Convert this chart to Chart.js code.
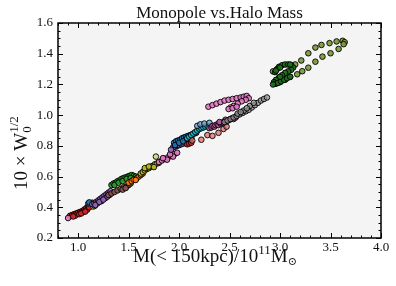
<!DOCTYPE html>
<html>
<head>
<meta charset="utf-8">
<script src="https://cdn.jsdelivr.net/npm/chart.js@4.4.0/dist/chart.umd.min.js"></script>
<style>
  html, body { margin: 0; padding: 0; background: #fff; }
  #wrap { width: 396px; height: 286px; }
</style>
</head>
<body>
<div id="wrap"><canvas id="chart"></canvas></div>
<script>
// tick labels
const xTicks = [1.0, 1.5, 2.0, 2.5, 3.0, 3.5, 4.0];
const yTicks = [0.2, 0.4, 0.6, 0.8, 1.0, 1.2, 1.4, 1.6];

// halo tracks: [M(<150kpc)/1e11, 10*W0^(1/2)]
const redPts = [[0.92,0.345],[0.94,0.35],[0.96,0.355],[0.98,0.36],[1.00,0.365],[1.02,0.37],[1.04,0.375],[1.06,0.385],[1.08,0.395],[1.10,0.405],[1.12,0.42],[1.14,0.43],[0.97,0.345],[1.01,0.355],[1.05,0.37],[1.09,0.385],[0.95,0.34],[1.03,0.36],[1.07,0.372],[1.11,0.40]];
const blueSmallPts = [[1.10,0.425],[1.11,0.432]];
const yellowPts = [[1.15,0.405],[1.165,0.41]];
const purplePts = [[1.14,0.42],[1.16,0.425],[1.18,0.435],[1.20,0.445],[1.22,0.455],[1.24,0.465],[1.26,0.475],[1.28,0.485],[1.30,0.495],[1.32,0.505],[1.19,0.425],[1.23,0.44],[1.27,0.46],[1.31,0.48],[1.17,0.415],[1.21,0.435],[1.25,0.45],[1.29,0.47]];
const brownPts = [[1.30,0.48],[1.33,0.49],[1.36,0.50],[1.39,0.51],[1.42,0.52],[1.45,0.53],[1.48,0.535],[1.50,0.545],[1.52,0.555],[1.44,0.515],[1.47,0.525]];
const greenPts = [[1.33,0.545],[1.35,0.555],[1.37,0.56],[1.39,0.57],[1.41,0.575],[1.43,0.585],[1.45,0.59],[1.47,0.595],[1.49,0.60],[1.51,0.605],[1.53,0.61],[1.55,0.605],[1.57,0.60],[1.36,0.545],[1.40,0.56],[1.44,0.57],[1.48,0.585],[1.52,0.59]];
const orangePts = [[1.50,0.56],[1.53,0.57],[1.55,0.58],[1.58,0.59],[1.60,0.60],[1.62,0.61],[1.64,0.62],[1.57,0.578]];
const olivePts = [[1.62,0.62],[1.64,0.63],[1.66,0.64],[1.68,0.65],[1.70,0.655],[1.72,0.665],[1.74,0.67],[1.76,0.68],[1.78,0.685],[1.80,0.69],[1.66,0.655],[1.70,0.665],[1.75,0.662]];
const paleOlivePts = [[1.77,0.73]];
const pinkPts = [[0.90,0.33],[1.80,0.695],[1.83,0.705],[1.86,0.715],[1.89,0.725],[1.92,0.735],[1.95,0.745],[1.98,0.755],[1.88,0.71],[1.94,0.73],[1.84,0.72],[1.91,0.745]];
const purple2Pts = [[1.94,0.79],[1.96,0.795],[1.98,0.80],[2.00,0.805],[2.02,0.81],[2.04,0.815],[2.06,0.82],[2.08,0.83],[1.92,0.775]];
const bluePts = [[1.95,0.82],[1.97,0.83],[1.99,0.835],[2.01,0.84],[2.03,0.85],[2.05,0.855],[2.07,0.86],[2.09,0.865],[2.11,0.87],[2.13,0.875],[2.15,0.88],[2.17,0.885],[1.96,0.805],[2.00,0.82],[2.04,0.83],[2.08,0.845],[2.12,0.855]];
const red2Pts = [[2.08,0.81],[2.10,0.815],[2.12,0.82]];
const cyanPts = [[2.08,0.85],[2.10,0.86],[2.12,0.87],[2.14,0.88],[2.16,0.89],[2.18,0.90],[2.20,0.91],[2.22,0.915],[2.24,0.92],[2.26,0.925],[2.28,0.93]];
const lightBluePts = [[2.18,0.93],[2.21,0.94],[2.25,0.945],[2.30,0.95]];
const salmonPts = [[2.13,0.835],[2.22,0.84],[2.28,0.87],[2.33,0.865],[2.39,0.885],[2.44,0.91],[2.47,0.925]];
const darkPinkPts = [[2.30,0.915],[2.32,0.92],[2.33,0.93],[2.35,0.925],[2.36,0.935],[2.38,0.94],[2.39,0.935],[2.41,0.945],[2.42,0.95],[2.44,0.95],[2.45,0.96],[2.47,0.96],[2.48,0.965],[2.50,0.97],[2.51,0.975],[2.53,0.98],[2.54,0.975],[2.56,0.985],[2.40,0.955],[2.46,0.97]];
const grayPts = [[2.45,0.955],[2.48,0.965],[2.51,0.975],[2.54,0.985],[2.57,0.995],[2.60,1.005],[2.63,1.015],[2.66,1.025],[2.69,1.035],[2.72,1.05],[2.75,1.065],[2.78,1.08],[2.81,1.095],[2.84,1.105],[2.87,1.115],[2.58,1.01],[2.64,1.03],[2.70,1.06],[2.74,1.08],[2.61,1.02],[2.67,1.045]];
const pinkArmPts = [[2.29,1.055],[2.33,1.065],[2.37,1.075],[2.41,1.085],[2.45,1.095],[2.49,1.10],[2.53,1.105],[2.57,1.11],[2.61,1.115],[2.64,1.12],[2.67,1.125],[2.69,1.11],[2.66,1.10],[2.62,1.09],[2.58,1.075],[2.54,1.06],[2.51,1.05],[2.49,1.04],[2.53,1.045],[2.57,1.055]];
const darkGreenPts = [[2.95,1.28],[2.97,1.30],[2.99,1.315],[3.02,1.325],[3.05,1.33],[3.08,1.33],[3.11,1.325],[3.13,1.31],[3.11,1.295],[3.08,1.285],[3.05,1.275],[3.02,1.26],[2.99,1.245],[2.96,1.23],[2.94,1.215],[2.95,1.205],[2.98,1.21],[3.01,1.22],[3.04,1.23],[3.07,1.24],[3.10,1.25],[2.96,1.29],[3.00,1.31],[3.10,1.33],[3.00,1.25],[2.93,1.20]];
const bigOlivePts = [[2.93,1.285],[3.15,1.33],[3.21,1.356],[3.28,1.403],[3.35,1.44],[3.41,1.457],[3.49,1.469],[3.56,1.48],[3.62,1.484],[3.64,1.475],[3.63,1.462],[3.58,1.431],[3.50,1.403],[3.42,1.381],[3.35,1.348],[3.28,1.309],[3.22,1.286],[3.17,1.266],[3.10,1.249],[3.05,1.23],[3.00,1.215],[2.96,1.205]];

const series = [
  { pts: redPts, color: 'rgba(214,39,40,0.9)' },
  { pts: blueSmallPts, color: 'rgba(31,119,180,0.9)' },
  { pts: yellowPts, color: 'rgba(225,220,30,0.9)' },
  { pts: purplePts, color: 'rgba(148,103,189,0.9)' },
  { pts: brownPts, color: 'rgba(140,86,75,0.9)' },
  { pts: greenPts, color: 'rgba(44,160,44,0.9)' },
  { pts: orangePts, color: 'rgba(255,127,14,0.9)' },
  { pts: olivePts, color: 'rgba(188,189,34,0.9)' },
  { pts: paleOlivePts, color: 'rgba(210,210,130,0.9)' },
  { pts: pinkPts, color: 'rgba(227,119,194,0.9)' },
  { pts: purple2Pts, color: 'rgba(148,103,189,0.9)' },
  { pts: bluePts, color: 'rgba(31,119,180,0.9)' },
  { pts: red2Pts, color: 'rgba(214,39,40,0.9)' },
  { pts: cyanPts, color: 'rgba(23,190,207,0.9)' },
  { pts: lightBluePts, color: 'rgba(110,160,210,0.8)' },
  { pts: salmonPts, color: 'rgba(225,110,110,0.75)' },
  { pts: darkPinkPts, color: 'rgba(190,90,160,0.9)' },
  { pts: grayPts, color: 'rgba(150,150,150,0.75)' },
  { pts: pinkArmPts, color: 'rgba(227,119,194,0.9)' },
  { pts: bigOlivePts, color: 'rgba(125,155,60,0.95)' },
  { pts: darkGreenPts, color: 'rgba(30,110,30,0.95)' }
];

const SERIF = '"Liberation Serif", "DejaVu Serif", serif';

function drawPieces(ctx, pieces) {
  let x = 0;
  pieces.forEach(p => {
    ctx.font = p.size + 'px ' + SERIF;
    ctx.fillText(p.t, x, p.dy || 0);
    if (!p.stack) x += ctx.measureText(p.t).width;
  });
}

const framePlugin = {
  id: 'frame',
  beforeDraw(chart) {
    const { ctx, chartArea: a } = chart;
    ctx.save();
    ctx.fillStyle = '#f4f4f4';
    ctx.fillRect(a.left, a.top, a.right - a.left, a.bottom - a.top);
    ctx.restore();
  },
  afterDraw(chart) {
    const { ctx, chartArea: a, scales } = chart;
    const x = scales.x, y = scales.y;
    ctx.save();
    ctx.strokeStyle = '#000';
    ctx.lineWidth = 1;
    ctx.beginPath();
    // inward ticks, minor every 0.1 on x, 0.05 on y
    for (let i = 8; i <= 40; i++) {
      const px = Math.round(x.getPixelForValue(i / 10)) + 0.5;
      const len = i % 5 === 0 ? 5 : 2.5;
      ctx.moveTo(px, a.bottom); ctx.lineTo(px, a.bottom - len);
      ctx.moveTo(px, a.top); ctx.lineTo(px, a.top + len);
    }
    for (let i = 4; i <= 32; i++) {
      const py = Math.round(y.getPixelForValue(i / 20)) + 0.5;
      const len = i % 4 === 0 ? 5 : 2.5;
      ctx.moveTo(a.left, py); ctx.lineTo(a.left + len, py);
      ctx.moveTo(a.right, py); ctx.lineTo(a.right - len, py);
    }
    ctx.stroke();
    ctx.lineWidth = 1.5;
    ctx.strokeRect(a.left, a.top, a.right - a.left, a.bottom - a.top);

    ctx.fillStyle = '#111';
    ctx.textBaseline = 'alphabetic';

    // title, centred over the plot area
    ctx.font = '17px ' + SERIF;
    ctx.textAlign = 'center';
    ctx.fillText('Monopole vs.Halo Mass', (a.left + a.right) / 2, 18);
    ctx.textAlign = 'left';

    // axis titles
    ctx.save();
    ctx.translate(133, 262);
    drawPieces(ctx, [
      { t: 'M(< 150kpc)/10', size: 19 },
      { t: '11', size: 13, dy: -8 },
      { t: 'M', size: 19 },
      { t: '\u2299', size: 11, dy: 3 }
    ]);
    ctx.restore();

    ctx.save();
    ctx.translate(27, 190);
    ctx.rotate(-Math.PI / 2);
    drawPieces(ctx, [
      { t: '10 \u00d7 W', size: 19 },
      { t: '0', size: 13, dy: 4, stack: true },
      { t: '1/2', size: 13, dy: -9 }
    ]);
    ctx.restore();
    ctx.restore();
  }
};

new Chart(document.getElementById('chart'), {
  type: 'scatter',
  data: {
    datasets: series.slice().reverse().map(s => ({
      data: s.pts.map(p => ({ x: p[0], y: p[1] })),
      backgroundColor: s.color,
      borderColor: '#000',
      borderWidth: 0.9,
      pointRadius: 2.8,
      pointHoverRadius: 2.8
    }))
  },
  options: {
    responsive: true,
    maintainAspectRatio: false,
    animation: false,
    layout: { padding: { left: 0, right: 15, top: 23, bottom: 0 } },
    plugins: {
      legend: { display: false },
      tooltip: { enabled: false },
      title: { display: false }
    },
    scales: {
      x: {
        type: 'linear',
        min: 0.8,
        max: 4.0,
        afterBuildTicks: s => { s.ticks = xTicks.map(v => ({ value: v })); },
        afterFit: s => { s.height = 48; },
        ticks: {
          color: '#111',
          font: { family: SERIF, size: 13 },
          padding: 2,
          maxRotation: 0,
          callback: v => v.toFixed(1)
        },
        grid: { display: false, drawTicks: false },
        border: { display: false }
      },
      y: {
        type: 'linear',
        min: 0.2,
        max: 1.6,
        afterBuildTicks: s => { s.ticks = yTicks.map(v => ({ value: v })); },
        afterFit: s => { s.width = 58; },
        ticks: {
          color: '#111',
          font: { family: SERIF, size: 13 },
          padding: 5,
          callback: v => v.toFixed(1)
        },
        grid: { display: false, drawTicks: false },
        border: { display: false }
      }
    }
  },
  plugins: [framePlugin]
});
</script>
</body>
</html>
